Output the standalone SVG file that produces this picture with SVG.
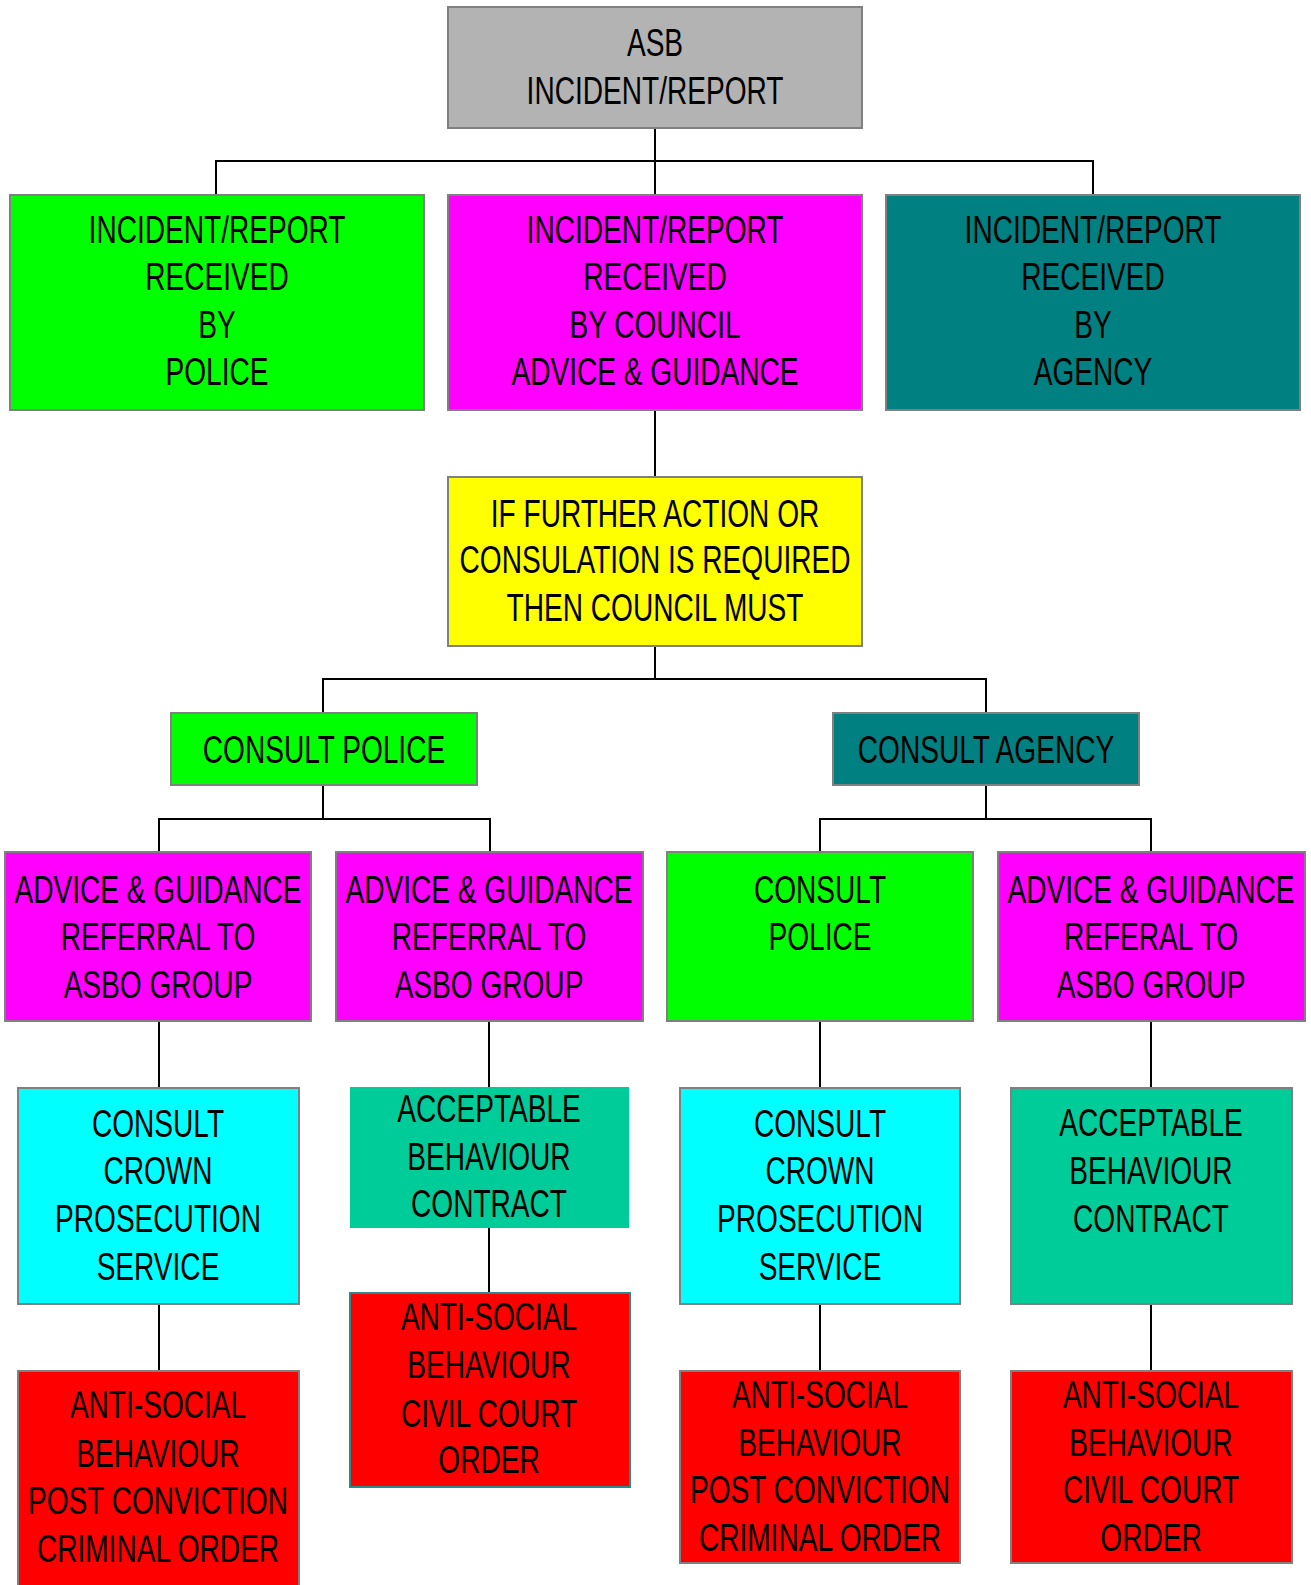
<svg xmlns="http://www.w3.org/2000/svg" width="1311" height="1585" viewBox="0 0 1311 1585">
<style>
.t{font-family:"Liberation Sans",Arial,sans-serif;font-size:39px;fill:#000;text-anchor:middle}
.b{stroke:#808080;stroke-width:2}
.c{stroke:#000;stroke-width:2;fill:none}
</style>
<rect width="1311" height="1585" fill="#fff"/>
<g id="connectors">
<path class="c" d="M655 128V195M216 195V161H1093V195"/>
<path class="c" d="M655 410V477"/>
<path class="c" d="M655 646V679M323 713V679H986V713"/>
<path class="c" d="M323 785V819M159 852V819H490V852"/>
<path class="c" d="M986 785V819M820 852V819H1151V852"/>
<path class="c" d="M159 1021V1088M159 1304V1371"/>
<path class="c" d="M489 1021V1087M489 1228V1293"/>
<path class="c" d="M820 1021V1088M820 1304V1371"/>
<path class="c" d="M1151 1021V1088M1151 1304V1371"/>
</g>
<g id="n-top"><rect class="b" x="448" y="7" width="414" height="121" fill="#b3b3b3"/>
<text class="t" transform="translate(655 0) scale(0.72 1)"><tspan x="0" y="56">ASB</tspan><tspan x="0" y="104">INCIDENT/REPORT</tspan></text></g>
<g id="n-police"><rect class="b" x="10" y="195" width="414" height="215" fill="#00ff00"/>
<text class="t" transform="translate(217 0) scale(0.72 1)"><tspan x="0" y="243">INCIDENT/REPORT</tspan><tspan x="0" y="290">RECEIVED</tspan><tspan x="0" y="338">BY</tspan><tspan x="0" y="385">POLICE</tspan></text></g>
<g id="n-council"><rect class="b" x="448" y="195" width="414" height="215" fill="#ff00ff"/>
<text class="t" transform="translate(655 0) scale(0.72 1)"><tspan x="0" y="243">INCIDENT/REPORT</tspan><tspan x="0" y="290">RECEIVED</tspan><tspan x="0" y="338">BY COUNCIL</tspan><tspan x="0" y="385">ADVICE &amp; GUIDANCE</tspan></text></g>
<g id="n-agency"><rect class="b" x="886" y="195" width="414" height="215" fill="#008080"/>
<text class="t" transform="translate(1093 0) scale(0.72 1)"><tspan x="0" y="243">INCIDENT/REPORT</tspan><tspan x="0" y="290">RECEIVED</tspan><tspan x="0" y="338">BY</tspan><tspan x="0" y="385">AGENCY</tspan></text></g>
<g id="n-further"><rect class="b" x="448" y="477" width="414" height="169" fill="#ffff00"/>
<text class="t" transform="translate(655 0) scale(0.72 1)"><tspan x="0" y="527">IF FURTHER ACTION OR</tspan><tspan x="0" y="573">CONSULATION IS REQUIRED</tspan><tspan x="0" y="621">THEN COUNCIL MUST</tspan></text></g>
<g id="n-consult-police"><rect class="b" x="171" y="713" width="306" height="72" fill="#00ff00"/>
<text class="t" transform="translate(324 0) scale(0.72 1)"><tspan x="0" y="763">CONSULT POLICE</tspan></text></g>
<g id="n-consult-agency"><rect class="b" x="833" y="713" width="306" height="72" fill="#008080"/>
<text class="t" transform="translate(986 0) scale(0.72 1)"><tspan x="0" y="763">CONSULT AGENCY</tspan></text></g>
<g id="n-ag1"><rect class="b" x="5" y="852" width="306" height="169" fill="#ff00ff"/>
<text class="t" transform="translate(158 0) scale(0.72 1)"><tspan x="0" y="903">ADVICE &amp; GUIDANCE</tspan><tspan x="0" y="950">REFERRAL TO</tspan><tspan x="0" y="998">ASBO GROUP</tspan></text></g>
<g id="n-ag2"><rect class="b" x="336" y="852" width="307" height="169" fill="#ff00ff"/>
<text class="t" transform="translate(489 0) scale(0.72 1)"><tspan x="0" y="903">ADVICE &amp; GUIDANCE</tspan><tspan x="0" y="950">REFERRAL TO</tspan><tspan x="0" y="998">ASBO GROUP</tspan></text></g>
<g id="n-cp2"><rect class="b" x="667" y="852" width="306" height="169" fill="#00ff00"/>
<text class="t" transform="translate(820 0) scale(0.72 1)"><tspan x="0" y="903">CONSULT</tspan><tspan x="0" y="950">POLICE</tspan></text></g>
<g id="n-ag3"><rect class="b" x="998" y="852" width="307" height="169" fill="#ff00ff"/>
<text class="t" transform="translate(1151 0) scale(0.72 1)"><tspan x="0" y="903">ADVICE &amp; GUIDANCE</tspan><tspan x="0" y="950">REFERAL TO</tspan><tspan x="0" y="998">ASBO GROUP</tspan></text></g>
<g id="n-cps1"><rect class="b" x="18" y="1088" width="281" height="216" fill="#00ffff"/>
<text class="t" transform="translate(158 0) scale(0.72 1)"><tspan x="0" y="1137">CONSULT</tspan><tspan x="0" y="1184">CROWN</tspan><tspan x="0" y="1232">PROSECUTION</tspan><tspan x="0" y="1280">SERVICE</tspan></text></g>
<g id="n-abc1"><rect x="350" y="1087" width="279" height="141" fill="#00cc99"/>
<text class="t" transform="translate(489 0) scale(0.72 1)"><tspan x="0" y="1122">ACCEPTABLE</tspan><tspan x="0" y="1170">BEHAVIOUR</tspan><tspan x="0" y="1217">CONTRACT</tspan></text></g>
<g id="n-cps2"><rect class="b" x="680" y="1088" width="280" height="216" fill="#00ffff"/>
<text class="t" transform="translate(820 0) scale(0.72 1)"><tspan x="0" y="1137">CONSULT</tspan><tspan x="0" y="1184">CROWN</tspan><tspan x="0" y="1232">PROSECUTION</tspan><tspan x="0" y="1280">SERVICE</tspan></text></g>
<g id="n-abc2"><rect class="b" x="1011" y="1088" width="281" height="216" fill="#00cc99"/>
<text class="t" transform="translate(1151 0) scale(0.72 1)"><tspan x="0" y="1136">ACCEPTABLE</tspan><tspan x="0" y="1184">BEHAVIOUR</tspan><tspan x="0" y="1232">CONTRACT</tspan></text></g>
<g id="n-order1"><rect class="b" x="18" y="1371" width="281" height="230" fill="#ff0000"/>
<text class="t" transform="translate(158 0) scale(0.72 1)"><tspan x="0" y="1418">ANTI-SOCIAL</tspan><tspan x="0" y="1467">BEHAVIOUR</tspan><tspan x="0" y="1514">POST CONVICTION</tspan><tspan x="0" y="1562">CRIMINAL ORDER</tspan></text></g>
<g id="n-order2"><rect x="350" y="1293" width="280" height="194" fill="#ff0000" stroke="#2a8a8a" stroke-width="2"/>
<text class="t" transform="translate(489 0) scale(0.72 1)"><tspan x="0" y="1330">ANTI-SOCIAL</tspan><tspan x="0" y="1378">BEHAVIOUR</tspan><tspan x="0" y="1427">CIVIL COURT</tspan><tspan x="0" y="1473">ORDER</tspan></text></g>
<g id="n-order3"><rect class="b" x="680" y="1371" width="280" height="192" fill="#ff0000"/>
<text class="t" transform="translate(820 0) scale(0.72 1)"><tspan x="0" y="1408">ANTI-SOCIAL</tspan><tspan x="0" y="1456">BEHAVIOUR</tspan><tspan x="0" y="1503">POST CONVICTION</tspan><tspan x="0" y="1551">CRIMINAL ORDER</tspan></text></g>
<g id="n-order4"><rect class="b" x="1011" y="1371" width="281" height="192" fill="#ff0000"/>
<text class="t" transform="translate(1151 0) scale(0.72 1)"><tspan x="0" y="1408">ANTI-SOCIAL</tspan><tspan x="0" y="1456">BEHAVIOUR</tspan><tspan x="0" y="1503">CIVIL COURT</tspan><tspan x="0" y="1551">ORDER</tspan></text></g>
</svg>
